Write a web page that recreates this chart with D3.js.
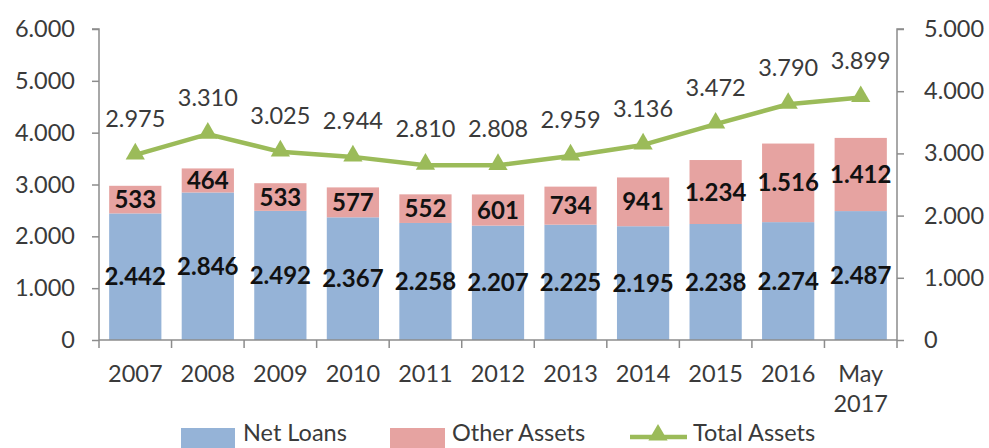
<!DOCTYPE html>
<html>
<head>
<meta charset="utf-8">
<script src="https://cdn.jsdelivr.net/npm/d3@7"></script>
<style>
  body { margin: 0; background: #fff; }
  text { font-family: Lato, "Open Sans", sans-serif; }
</style>
</head>
<body>
<div id="chart"></div>
<script>
var years = ["2007", "2008", "2009", "2010", "2011", "2012", "2013", "2014", "2015", "2016", "May 2017"];
var netLoans = [2442, 2846, 2492, 2367, 2258, 2207, 2225, 2195, 2238, 2274, 2487];
var otherAssets = [533, 464, 533, 577, 552, 601, 734, 941, 1234, 1516, 1412];
var totalAssets = [2975, 3310, 3025, 2944, 2810, 2808, 2959, 3136, 3472, 3790, 3899];
var leftTicks = [0, 1000, 2000, 3000, 4000, 5000, 6000];
var rightTicks = [0, 1000, 2000, 3000, 4000, 5000];

var svg = d3.select("#chart")
    .append("svg")
    .attr("width", 989)
    .attr("height", 448),
    margin = { top: 29, right: 92, bottom: 108, left: 99 },
    width = +svg.attr("width") - margin.left - margin.right,
    height = +svg.attr("height") - margin.top - margin.bottom;

// thousands with a dot, like "2.442"
const fmt = function (v) { return v === 0 ? "0" : d3.format(",")(v).replace(/,/g, "."); };

var g = svg.append("g")
    .attr("transform", "translate(" + margin.left + "," + margin.top + ")");

var x = d3.scaleBand()
    .domain(years)
    .range([0, width])
    .paddingInner(0.28)
    .paddingOuter(0.14);

var yL = d3.scaleLinear().domain([0, 6000]).range([height, 0]);
var yR = d3.scaleLinear().domain([0, 5000]).range([height, 0]);

// bars: net loans
g.selectAll(".loan")
    .data(years)
    .enter().append("rect")
    .attr("x", function (d) { return x(d); })
    .attr("width", x.bandwidth())
    .attr("y", function (d, i) { return yL(netLoans[i]); })
    .attr("height", function (d, i) { return height - yL(netLoans[i]); })
    .attr("fill", "#95B3D7");

// bars: other assets on top
g.selectAll(".other")
    .data(years)
    .enter().append("rect")
    .attr("x", function (d) { return x(d); })
    .attr("width", x.bandwidth())
    .attr("y", function (d, i) { return yL(netLoans[i] + otherAssets[i]); })
    .attr("height", function (d, i) { return yL(netLoans[i]) - yL(netLoans[i] + otherAssets[i]); })
    .attr("fill", "#E6A3A1");

// axes
var axisColor = "#8c8c8c";
var left = g.append("g")
    .call(d3.axisLeft(yL).tickValues(leftTicks).tickFormat(fmt).tickSize(7).tickPadding(17));
var right = g.append("g")
    .attr("transform", "translate(" + width + ",0)")
    .call(d3.axisRight(yR).tickValues(rightTicks).tickFormat(fmt).tickSize(7).tickPadding(20));
var bottom = g.append("g")
    .attr("transform", "translate(0," + height + ")")
    .call(d3.axisBottom(x).tickSize(0).tickPadding(25));

[left, right, bottom].forEach(function (a) {
    a.select(".domain").attr("stroke", axisColor).attr("stroke-width", 1.5);
    a.selectAll(".tick line").attr("stroke", axisColor).attr("stroke-width", 1.5);
    a.selectAll(".tick text").attr("fill", "#3a3a3a").style("font-size", "23.5px");
});
left.select(".domain").attr("d", "M-7,0H0V" + height);
right.select(".domain").attr("d", "M7,0H0V" + height);
bottom.select(".domain").attr("d", "M0,0H" + width);

// category ticks between bars
var step = x.step();
bottom.selectAll(".sep")
    .data(d3.range(years.length + 1))
    .enter().append("line")
    .attr("x1", function (i) { return i * step; })
    .attr("x2", function (i) { return i * step; })
    .attr("y1", 0)
    .attr("y2", 8)
    .attr("stroke", axisColor)
    .attr("stroke-width", 1.5);

// wrap "May 2017"
bottom.selectAll(".tick text").each(function (d) {
    var parts = d.split(" ");
    if (parts.length > 1) {
        var t = d3.select(this).text(null);
        parts.forEach(function (p, k) {
            t.append("tspan").attr("x", 0).attr("dy", k === 0 ? "0.71em" : "1.3em").text(p);
        });
    }
});

// value labels inside bars
g.selectAll(".lblLoan")
    .data(years)
    .enter().append("text")
    .attr("x", function (d) { return x(d) + x.bandwidth() / 2; })
    .attr("y", function (d, i) { return yL(netLoans[i] / 2); })
    .attr("dy", "0.36em")
    .attr("text-anchor", "middle")
    .style("font-size", "24px")
    .style("font-weight", "bold")
    .attr("fill", "#111")
    .text(function (d, i) { return fmt(netLoans[i]); });

g.selectAll(".lblOther")
    .data(years)
    .enter().append("text")
    .attr("x", function (d) { return x(d) + x.bandwidth() / 2; })
    .attr("y", function (d, i) { return yL(netLoans[i] + otherAssets[i] / 2); })
    .attr("dy", "0.36em")
    .attr("text-anchor", "middle")
    .style("font-size", "24px")
    .style("font-weight", "bold")
    .attr("fill", "#111")
    .text(function (d, i) { return fmt(otherAssets[i]); });

// total assets line on the right axis
var green = "#9BBB59";
g.append("path")
    .datum(totalAssets)
    .attr("fill", "none")
    .attr("stroke", green)
    .attr("stroke-width", 4.5)
    .attr("stroke-linejoin", "round")
    .attr("d", d3.line()
        .x(function (d, i) { return x(years[i]) + x.bandwidth() / 2; })
        .y(function (d) { return yR(d); }));

var tri = d3.symbol().type(d3.symbolTriangle).size(160);
g.selectAll(".marker")
    .data(totalAssets)
    .enter().append("path")
    .attr("d", tri)
    .attr("fill", green)
    .attr("transform", function (d, i) {
        return "translate(" + (x(years[i]) + x.bandwidth() / 2) + "," + (yR(d) - 1) + ")";
    });

g.selectAll(".lblTotal")
    .data(totalAssets)
    .enter().append("text")
    .attr("x", function (d, i) { return x(years[i]) + x.bandwidth() / 2; })
    .attr("y", function (d) { return yR(d) - 28; })
    .attr("text-anchor", "middle")
    .style("font-size", "23.5px")
    .attr("fill", "#3a3a3a")
    .text(function (d) { return fmt(d); });

// legend
var legend = svg.append("g").attr("transform", "translate(0,433)");
legend.append("rect").attr("x", 181).attr("y", -5).attr("width", 54).attr("height", 20).attr("fill", "#95B3D7");
legend.append("text").attr("x", 243).attr("y", 8).style("font-size", "23.5px").attr("fill", "#3a3a3a").text("Net Loans");
legend.append("rect").attr("x", 390).attr("y", -5).attr("width", 55).attr("height", 20).attr("fill", "#E6A3A1");
legend.append("text").attr("x", 452).attr("y", 8).style("font-size", "23.5px").attr("fill", "#3a3a3a").text("Other Assets");
legend.append("line").attr("x1", 630).attr("x2", 687).attr("y1", 4).attr("y2", 4)
    .attr("stroke", green).attr("stroke-width", 4.5);
legend.append("path").attr("d", tri).attr("fill", green).attr("transform", "translate(658,2)");
legend.append("text").attr("x", 693).attr("y", 8).style("font-size", "23.5px").attr("fill", "#3a3a3a").text("Total Assets");
</script>
</body>
</html>
